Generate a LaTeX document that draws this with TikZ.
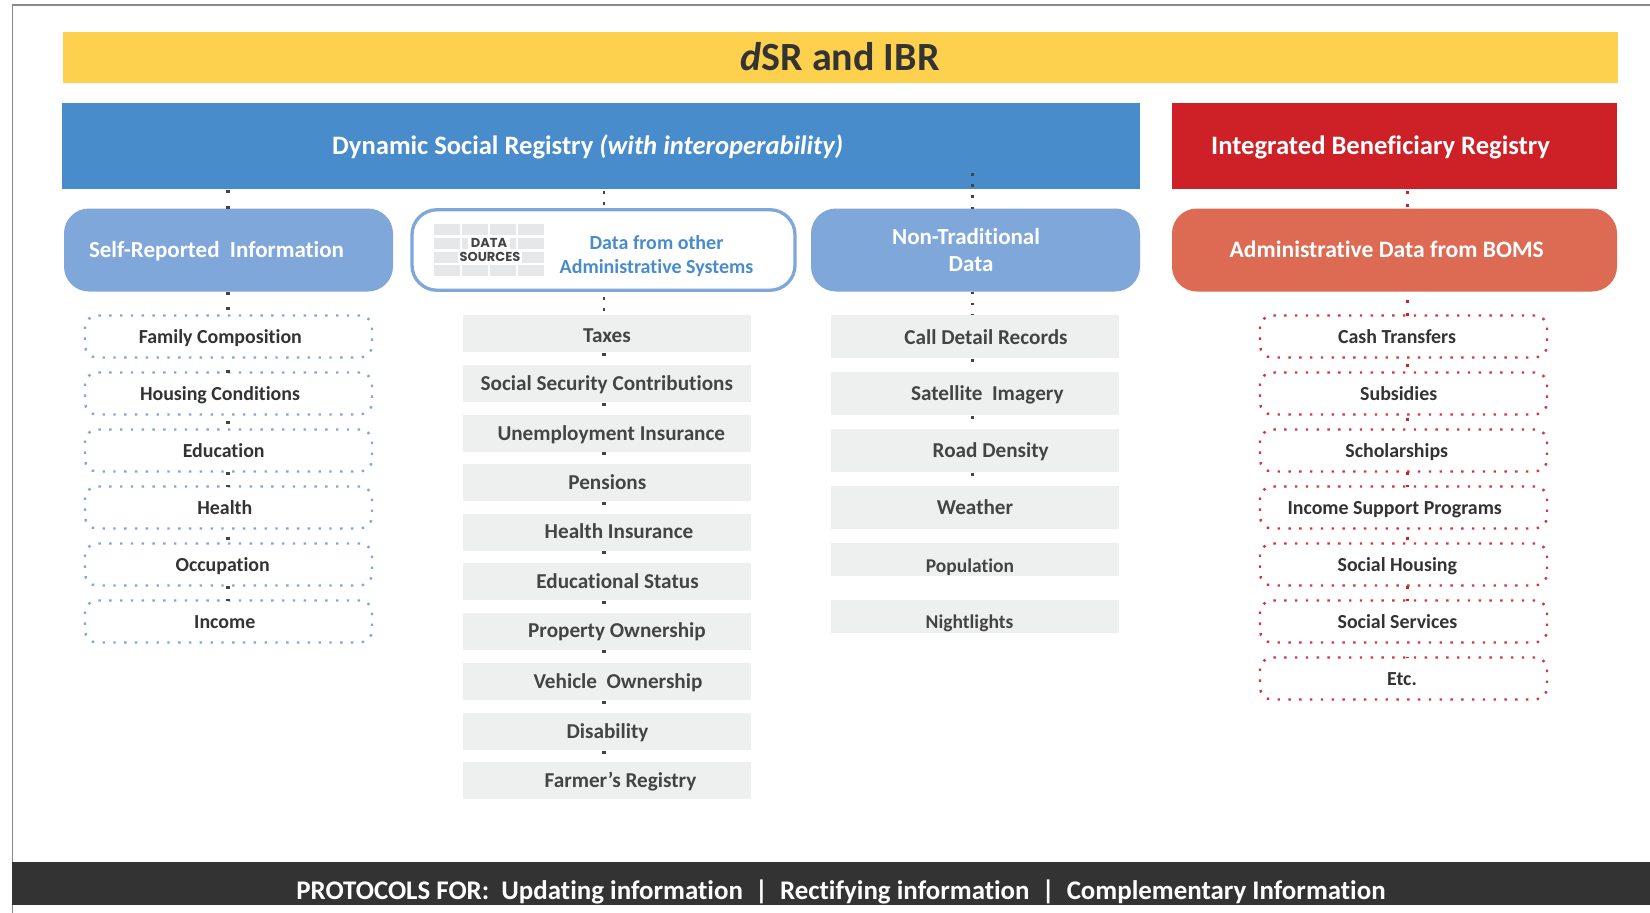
\documentclass[tikz,border=0pt]{standalone}
\usepackage{fontspec}
\setmainfont{Carlito}[Ligatures=NoCommon]
\newfontfamily\iconfont{Poppins}
\definecolor{ybar}{HTML}{FDD04E}
\definecolor{bluebar}{HTML}{488CCB}
\definecolor{redbar}{HTML}{CE2027}
\definecolor{softblue}{HTML}{7FA7D9}
\definecolor{softred}{HTML}{DD6B53}
\definecolor{paleg}{HTML}{EEF0EF}
\definecolor{cellg}{HTML}{E6E7E8}
\definecolor{ink}{HTML}{333333}
\definecolor{inkg}{HTML}{444444}
\definecolor{darkbar}{HTML}{333333}
\definecolor{framec}{HTML}{8A8A8A}
\tikzset{
 x=1pt,y=-1pt,
 every node/.style={inner sep=0pt,outer sep=0pt,font=\bfseries},
 band/.style={rectangle,anchor=north west},
 tx/.style={anchor=base},
 pilltx/.style={anchor=base,text=white,font=\bfseries\fontsize{23}{27}\selectfont},
 hdtx/.style={anchor=base,text=white,font=\bfseries\fontsize{26.6}{30}\selectfont},
 pill/.style={rectangle,rounded corners=25pt,fill=softblue},
 grey/.style={rectangle,fill=paleg,minimum width=288pt},
 greytx/.style={anchor=base,text=inkg,font=\bfseries\fontsize{21.2}{24}\selectfont},
 dotb/.style={rectangle,rounded corners=12pt,minimum width=287pt,minimum height=42pt,draw=softblue,line width=2.4pt,dash pattern=on 2.4pt off 8.4pt},
 dotr/.style={dotb,draw=redbar!90!white},
 dottx/.style={anchor=base,text=ink,font=\bfseries\fontsize{19.9}{22}\selectfont},
 lnk/.style={draw=inkg,line width=3.6pt,dash pattern=on 3pt off 12pt},
 lnks/.style={draw=inkg,line width=2.6pt,dash pattern=on 2.6pt off 8.6pt},
 lnkr/.style={draw=redbar,line width=3pt,dash pattern=on 3pt off 10pt},
 cell/.style={fill=cellg},
 icontx/.style={anchor=base,text=inkg,font=\iconfont\bfseries\fontsize{13}{14}\selectfont},
}
\begin{document}
\begin{tikzpicture}
\useasboundingbox (0,0) rectangle (1650,913);
\fill[white] (0,0) rectangle (1650,913);
\draw[framec,line width=1.6pt] (12.5,913) -- (12.5,5) -- (1650,5);
\node[band,fill=ybar,minimum width=1555pt,minimum height=51pt] (title) at (63,32) {};
\node[tx,text=ink,font=\bfseries\fontsize{40}{44}\selectfont] (titlet) at (840,70.7) {\textit{d}SR and IBR};
\node[band,fill=bluebar,minimum width=1078pt,minimum height=86pt] (dsr) at (62,103) {};
\node[hdtx] (dsrt) at (587.7,154) {Dynamic Social Registry \textit{(with interoperability)}};
\node[band,fill=redbar,minimum width=445pt,minimum height=86pt] (ibr) at (1172,103) {};
\node[hdtx] (ibrt) at (1380.6,154) {Integrated Beneficiary Registry};
\coordinate (c1) at (228,0);\coordinate (c2) at (604,0);\coordinate (c3) at (972.5,0);\coordinate (c4) at (1407.5,0);
% pills
\node[pill,minimum width=329pt,minimum height=83pt] (self) at (228.5,250) {};
\node[pilltx] (selft) at (216.5,257.3) {Self-Reported\ \ Information};
\node[pill,fill=white,draw=softblue,line width=3.3pt,minimum width=383pt,minimum height=80.5pt] (oth) at (603.5,250) {};
\node[text=bluebar,align=center,font=\bfseries\fontsize{20}{24}\selectfont] (otht) at (656.5,256.5) {Data from other\\Administrative Systems};
\node[pill,minimum width=329pt,minimum height=83pt] (nt) at (975.5,250) {};
\node[text=white,align=center,font=\bfseries\fontsize{23}{27}\selectfont] (ntt) at (966,250) {Non-Traditional\\\hspace*{10pt}Data};
\node[pill,fill=softred,minimum width=445pt,minimum height=83pt] (adm) at (1394.5,250) {};
\node[pilltx,font=\bfseries\fontsize{23.6}{27}\selectfont] (admt) at (1386.7,257.3) {Administrative Data from BOMS};
% data sources icon
\foreach \yy in {224,238,252,265}{\foreach \xx in {434,462,490,518}{\fill[cell] (\xx,\yy) rectangle ++(26,11);}}
\fill[white] (468,238) rectangle (510,249);\fill[white] (458,252) rectangle (522,263);
\node[icontx] (dsa) at (489,247.3) {DATA};
\node[icontx] (dsb) at (490,261.7) {SOURCES};
% column 1
\foreach \n/\yy/\t/\xo in {a/336.5/Family Composition/220.3,b/393.5/Housing Conditions/220,c/450.5/Education/223.7,d/507.5/Health/224.8,e/564.5/Occupation/222.7,f/621.5/Income/224.8}{
 \node[dotb] (s\n) at (228.5,\yy) {};
 \node[dottx] (s\n t) at (\xo,\yy+7.3) {\t};
}
% column 4
\foreach \n/\yy/\t/\xo in {a/336.5/Cash Transfers/1397,b/393.5/Subsidies/1398.7,c/450.5/Scholarships/1396.7,d/507.5/Income Support Programs/1394.7,e/564.5/Social Housing/1397.3,f/621.5/Social Services/1397.5,g/678.5/Etc./1402}{
 \node[dotr] (r\n) at (1403.5,\yy) {};
 \node[dottx] (r\n t) at (\xo,\yy+7.3) {\t};
}
% column 2
\foreach \n/\yy/\bl/\t/\xo in {a/333.5/342/Taxes/607,b/383.5/390.5/Social Security Contributions/606.8,c/433/440.5/Unemployment Insurance/611.3,d/482.5/489.5/Pensions/607.3,e/532/538.5/Health Insurance/619,f/581.5/588.5/Educational Status/617.5,g/631/637.7/Property Ownership/617,h/681.5/688.7/Vehicle\ \ Ownership/618,i/731.5/738.7/Disability/607.5,j/780.5/787.7/Farmer’s Registry/620.5}{
 \node[grey,minimum height=37pt] (g\n) at (607,\yy) {};
 \node[greytx] (g\n t) at (\xo,\bl) {\t};
}
% column 3
\foreach \n/\yy/\hh/\bl/\t/\xo/\fs in {a/336.5/43/344.3/Call Detail Records/986/21.2,b/393.5/43/400.5/Satellite\ \ Imagery/987.3/21.2,c/450.5/43/457.5/Road Density/990.7/21.2,d/507.5/43/514.5/Weather/975/21.2,e/559.3/33/572/Population/970/19.5,f/616.3/33/628.5/Nightlights/969.5/19.5}{
 \node[grey,minimum height=\hh pt] (n\n) at (975,\yy) {};
 \node[greytx,font=\bfseries\fontsize{\fs}{24}\selectfont] (n\n t) at (\xo,\bl) {\t};
}
% bottom
\node[band,fill=darkbar,minimum width=1638pt,minimum height=43pt] (bar) at (12,862) {};
\node[tx,text=white,font=\bfseries\fontsize{26.9}{30}\selectfont] (bart) at (841,899) {PROTOCOLS FOR:\ \ Updating information\ \ |\ \ Rectifying information\ \ |\ \ Complementary Information};
% connectors
\draw[lnk,dash pattern=on 3pt off 13pt] (dsr.south -| c1) ++(0,1) -- (self.north -| c1);
\draw[lnk] (self.south -| c1) -- (sa.north -| c1);
\foreach \p/\q/\s in {sa/sb/12,sb/sc/6,sc/sd/0,sd/se/8,se/sf/0}{\draw[lnk,dash pattern=on 3pt off 10pt] (\p.south -| c1) ++(0,\s) -- (\q.north -| c1);}
\draw[lnks] (dsr.south -| c2) ++(0,2) -- (oth.north -| c2);
\draw[lnks] (oth.south -| c2) ++(0,7) -- (ga.north -| c2);
\foreach \p/\q in {ga/gb,gb/gc,gc/gd,gd/ge,ge/gf,gf/gg,gg/gh,gh/gi,gi/gj}{\draw[lnk] (\p.south -| c2) ++(0,.5) -- (\q.north -| c2);}
\draw[lnks] (dsr.south -| c3) ++(0,-16) -- (nt.north -| c3);
\draw[lnks] (nt.south -| c3) -- (na.north -| c3);
\foreach \p/\q in {na/nb,nb/nc,nc/nd}{\draw[lnk] (\p.south -| c3) ++(0,.5) -- (\q.north -| c3);}
\draw[lnkr] (ibr.south -| c4) ++(0,2) -- (adm.north -| c4);
\draw[lnkr] (adm.south -| c4) ++(0,8) -- (ra.north -| c4);
\foreach \p/\q/\s in {ra/rb/6,rb/rc/3,rc/rd/0,rd/re/8,re/rf/0,rf/rg/14}{\draw[lnkr] (\p.south -| c4) ++(0,\s) -- (\q.north -| c4);}
\end{tikzpicture}
\end{document}
